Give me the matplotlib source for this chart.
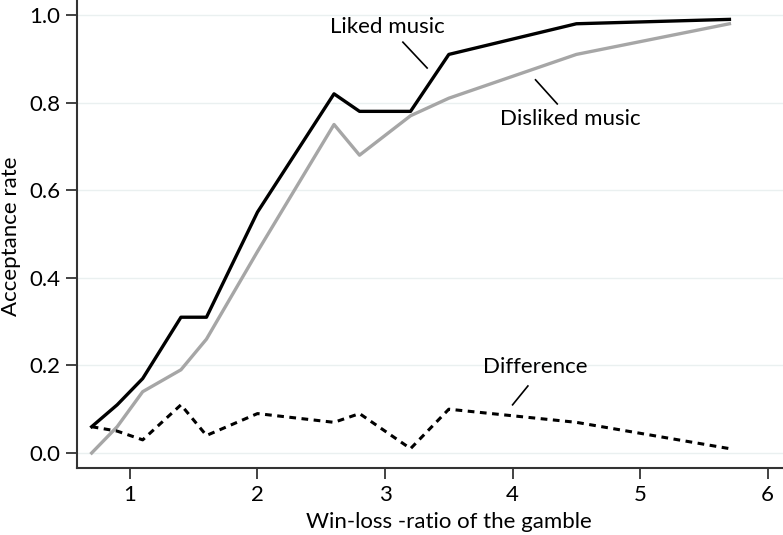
import matplotlib
matplotlib.use("Agg")
import matplotlib.pyplot as plt

plt.rcParams['font.family'] = ['Lato', 'DejaVu Sans']

ratio = [0.7, 0.9, 1.1, 1.4, 1.6, 2.0, 2.6, 2.8, 3.2, 3.5, 4.5, 5.7]
liked = [0.06, 0.11, 0.17, 0.31, 0.31, 0.55, 0.82, 0.78, 0.78, 0.91, 0.98, 0.99]
disliked = [0.00, 0.06, 0.14, 0.19, 0.26, 0.46, 0.75, 0.68, 0.77, 0.81, 0.91, 0.98]
difference = [0.06, 0.05, 0.03, 0.11, 0.04, 0.09, 0.07, 0.09, 0.01, 0.10, 0.07, 0.01]

xticks = [1, 2, 3, 4, 5, 6]
yticks = [0.0, 0.2, 0.4, 0.6, 0.8, 1.0]

FS = 16

BOT = 468
fig = plt.figure(figsize=(7.83, 5.35), dpi=100)
ax = fig.add_axes([77/783, 1 - BOT/535, 1 - 77/783, BOT/535])

for yt in yticks:
    ax.axhline(yt, color='#eaf0f0', lw=1, zorder=0)

ax.plot(ratio, disliked, color='#a6a6a6', lw=2.4, zorder=2)
ax.plot(ratio, liked, color='black', lw=2.4, zorder=3)
ax.plot(ratio, difference, color='black', lw=2.2, ls=(0, (2.2, 1.8)), zorder=3)

ax.set_xlim(0.585, 6.12)
ax.set_ylim((453 - BOT) / 438, 1 + 15 / 438)
ax.set_xticks(xticks)
ax.set_xticklabels([str(t) for t in xticks])
ax.set_yticks(yticks)
ax.set_yticklabels([f"{t:.1f}" for t in yticks])
ax.tick_params(direction='out', length=8, width=1.2, labelsize=FS, colors='#222222',
               labelcolor='black', pad=4)

for s in ['top', 'right']:
    ax.spines[s].set_visible(False)
for s in ['left', 'bottom']:
    ax.spines[s].set_color('#333333')
    ax.spines[s].set_linewidth(1.5)

ax.set_xlabel("Win-loss -ratio of the gamble", fontsize=FS)
ax.set_ylabel("Acceptance rate", fontsize=FS)
ax.xaxis.set_label_coords((449 - 77) / 706, -(522 - BOT) / BOT)
ax.yaxis.set_label_coords(-(77 - 11) / 706, (BOT - 236) / BOT)
ax.xaxis.label.set_va('center')
ax.yaxis.label.set_va('center')

ax.text(3.02, 0.973, "Liked music", fontsize=FS, ha='center', va='center')
ax.plot([3.14, 3.33], [0.938, 0.879], color='black', lw=1.2)
ax.text(4.45, 0.763, "Disliked music", fontsize=FS, ha='center', va='center')
ax.plot([4.18, 4.35], [0.852, 0.797], color='black', lw=1.2)
ax.text(4.18, 0.197, "Difference", fontsize=FS, ha='center', va='center')
ax.plot([4.12, 4.0], [0.153, 0.11], color='black', lw=1.2)

fig.savefig("out.png", dpi=100)
